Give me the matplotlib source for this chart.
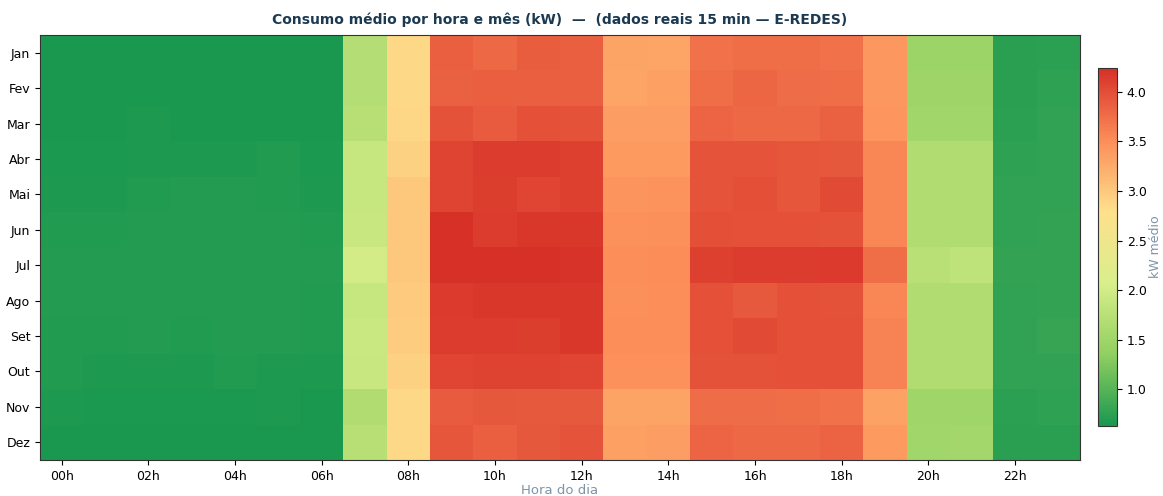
import numpy as np
import matplotlib
matplotlib.use("Agg")
import matplotlib.pyplot as plt
from matplotlib.colors import LinearSegmentedColormap

months = ["Jan", "Fev", "Mar", "Abr", "Mai", "Jun", "Jul", "Ago", "Set", "Out", "Nov", "Dez"]
hour_ticks = list(range(0, 24, 2))
hour_labels = [f"{h:02d}h" for h in hour_ticks]

# Average kW per hour of day (columns 00h..23h), one row per month
kw_jan = [0.63, 0.63, 0.63, 0.63, 0.63, 0.63, 0.63, 1.71, 2.85, 3.87, 3.80, 3.88, 3.87, 3.32, 3.30, 3.73, 3.75, 3.76, 3.73, 3.41, 1.49, 1.49, 0.74, 0.75]
kw_fev = [0.63, 0.63, 0.63, 0.63, 0.63, 0.63, 0.63, 1.71, 2.85, 3.85, 3.87, 3.87, 3.86, 3.30, 3.34, 3.76, 3.81, 3.77, 3.75, 3.42, 1.50, 1.50, 0.74, 0.76]
kw_mar = [0.64, 0.64, 0.67, 0.64, 0.64, 0.64, 0.64, 1.74, 2.86, 3.97, 3.90, 3.98, 3.97, 3.36, 3.36, 3.82, 3.80, 3.80, 3.85, 3.43, 1.52, 1.53, 0.75, 0.78]
kw_abr = [0.65, 0.65, 0.66, 0.67, 0.67, 0.68, 0.65, 1.89, 2.92, 4.08, 4.13, 4.13, 4.10, 3.40, 3.40, 3.95, 3.95, 3.93, 3.92, 3.55, 1.67, 1.67, 0.77, 0.78]
kw_mai = [0.67, 0.67, 0.68, 0.69, 0.69, 0.68, 0.67, 1.89, 3.00, 4.08, 4.12, 4.07, 4.10, 3.44, 3.46, 3.95, 4.00, 3.93, 4.02, 3.55, 1.67, 1.67, 0.78, 0.78]
kw_jun = [0.68, 0.68, 0.69, 0.69, 0.70, 0.69, 0.68, 1.90, 3.00, 4.22, 4.14, 4.17, 4.17, 3.47, 3.49, 4.00, 3.98, 3.98, 3.97, 3.55, 1.67, 1.67, 0.78, 0.79]
kw_jul = [0.69, 0.69, 0.69, 0.70, 0.70, 0.69, 0.69, 2.02, 3.00, 4.23, 4.24, 4.24, 4.20, 3.50, 3.52, 4.10, 4.13, 4.13, 4.15, 3.76, 1.75, 1.81, 0.79, 0.79]
kw_ago = [0.69, 0.69, 0.69, 0.69, 0.69, 0.69, 0.68, 1.89, 2.98, 4.15, 4.18, 4.18, 4.18, 3.48, 3.50, 3.98, 3.91, 3.98, 3.96, 3.55, 1.66, 1.66, 0.78, 0.79]
kw_set = [0.68, 0.68, 0.69, 0.68, 0.69, 0.69, 0.68, 1.92, 2.97, 4.13, 4.13, 4.12, 4.18, 3.50, 3.50, 3.98, 4.02, 3.98, 3.98, 3.60, 1.66, 1.66, 0.78, 0.80]
kw_out = [0.68, 0.67, 0.67, 0.67, 0.68, 0.67, 0.67, 1.90, 2.92, 4.06, 4.09, 4.09, 4.07, 3.47, 3.47, 3.97, 3.97, 3.98, 3.98, 3.60, 1.66, 1.67, 0.78, 0.78]
kw_nov = [0.66, 0.65, 0.65, 0.65, 0.65, 0.66, 0.64, 1.66, 2.85, 3.90, 3.92, 3.91, 3.91, 3.32, 3.32, 3.77, 3.77, 3.76, 3.73, 3.33, 1.51, 1.51, 0.75, 0.76]
kw_dez = [0.63, 0.63, 0.63, 0.63, 0.63, 0.63, 0.63, 1.73, 2.85, 3.93, 3.86, 3.92, 3.95, 3.34, 3.36, 3.82, 3.79, 3.79, 3.84, 3.40, 1.53, 1.56, 0.74, 0.74]

kw = np.array([kw_jan, kw_fev, kw_mar, kw_abr, kw_mai, kw_jun,
               kw_jul, kw_ago, kw_set, kw_out, kw_nov, kw_dez])

# Six-step ColorBrewer green -> yellow -> red ramp
cmap = LinearSegmentedColormap.from_list(
    "kw_cmap", ["#1a9850", "#91cf60", "#d9ef8b", "#fee08b", "#fc8d59", "#d73027"])

W, H = 1163, 496
fig = plt.figure(figsize=(W / 100, H / 100), dpi=100)
ax = fig.add_axes([40 / W, 1 - 460 / H, 1040 / W, 425 / H])
cax = fig.add_axes([1098 / W, 1 - 426 / H, 19 / W, 358 / H])

im = ax.imshow(kw, cmap=cmap, aspect="auto", interpolation="nearest",
               vmin=kw.min(), vmax=kw.max())

ax.set_yticks(range(len(months)))
ax.set_yticklabels(months, fontsize=9)
ax.set_xticks(hour_ticks)
ax.set_xticklabels(hour_labels, fontsize=9)
ax.set_xlabel("Hora do dia", color="#7f93a8", fontsize=9.5, labelpad=1)
for s in ax.spines.values():
    s.set_color("#333333")
ax.set_title("Consumo médio por hora e mês (kW)  —  (dados reais 15 min — E-REDES)",
             fontsize=10, fontweight="bold", color="#1b3a52", pad=8)

cb = fig.colorbar(im, cax=cax)
cb.ax.tick_params(labelsize=9)
cb.set_label("kW médio", color="#7f93a8", fontsize=9, labelpad=2)
cb.outline.set_edgecolor("#333333")

fig.savefig("out.png", dpi=100)
